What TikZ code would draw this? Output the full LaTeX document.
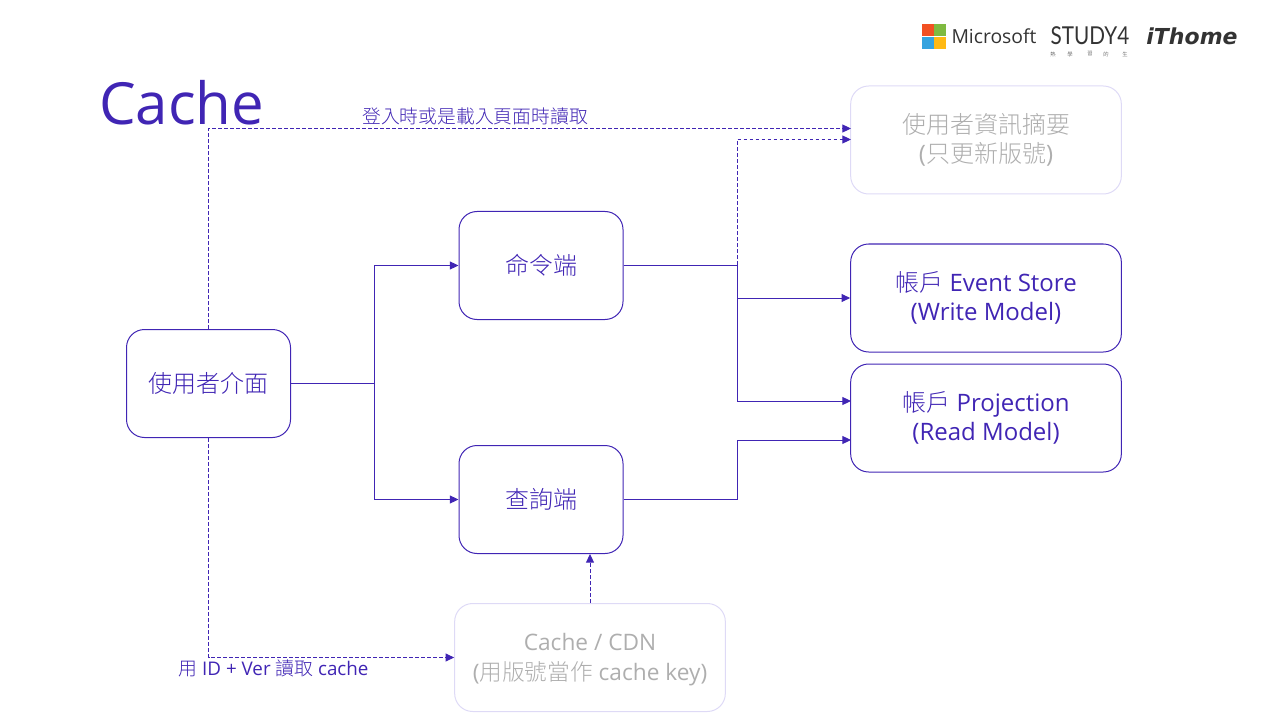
\documentclass[tikz,border=0pt]{standalone}
\usepackage{fontspec}
\setmainfont{Open Sans}
\newfontfamily\cjk{Noto Sans CJK TC Light}
\newfontfamily\logoslim{Lato}
\newfontfamily\logoheavy{DejaVu Sans}
\usetikzlibrary{arrows.meta}
\definecolor{accent}{HTML}{4025B4}
\definecolor{faint}{HTML}{DEDAF6}
\definecolor{muted}{HTML}{AEAEAE}
\definecolor{logoink}{HTML}{333333}
\definecolor{msred}{HTML}{F25022}
\definecolor{msgreen}{HTML}{7FBA40}
\definecolor{msblue}{HTML}{35A3DF}
\definecolor{msyellow}{HTML}{FFB913}

\begin{document}
\begin{tikzpicture}[
    x=0.75pt, y=-0.75pt,
    box/.style={draw=accent, rounded corners=13.5pt, inner sep=0pt, align=center, text=accent, font=\fontsize{18}{22}\selectfont, line width=0.75pt},
    smallbox/.style={box, minimum width=123pt, minimum height=81pt},
    widebox/.style={box, minimum width=203pt, minimum height=81pt},
    ghost/.style={draw=faint, text=muted},
    link/.style={-{Triangle[length=6.5pt,width=6pt]}, draw=accent, line width=0.75pt},
    dashlink/.style={link, dash pattern=on 2.8pt off 1.7pt},
    caption/.style={text=accent, inner sep=0pt, font=\fontsize{14.1}{17}\selectfont},
    pane/.style={inner sep=0pt, minimum size=8.7pt},
    tiny/.style={text=logoink, inner sep=0pt, font=\cjk\fontsize{4}{5}\selectfont}
  ]
  \useasboundingbox (0,0) rectangle (1280,720);
  % Title and logos
  \node[text=accent, inner sep=0pt, font=\fontsize{43.6}{52}\selectfont] (title) at (181.5,103) {Cache};
  \node[pane, fill=msred] (msa) at (928,30) {};
  \node[pane, fill=msgreen] (msb) at (940,30) {};
  \node[pane, fill=msblue] (msc) at (928,43) {};
  \node[pane, fill=msyellow] (msd) at (940,43) {};
  \node[text=logoink, inner sep=0pt, font=\fontsize{14.5}{18}\selectfont] (microsoft) at (994,36) {Microsoft};
  \node[text=logoink, inner sep=0pt, font=\logoslim\fontsize{18.5}{20}\selectfont] (study) at (1090,36) {\scalebox{0.84}[1]{STUDY4}};
  \node[text=logoink, inner sep=0pt, font=\logoheavy\fontsize{16.5}{20}\bfseries\itshape\selectfont] (ithome) at (1192,36) {iThome};
  \node[tiny] (sa) at (1053,54) {熱};
  \node[tiny] (sb) at (1070,54) {學};
  \node[tiny] (sc) at (1090,54) {習};
  \node[tiny] (sd) at (1106,54) {的};
  \node[tiny] (se) at (1125,54) {生};
  % Boxes
  \node[smallbox] (ui) at (208.5,383.5) {{\cjk 使用者介面}};
  \node[smallbox] (cmd) at (541,265.5) {{\cjk 命令端}};
  \node[smallbox] (query) at (541,499.5) {{\cjk 查詢端}};
  \node[widebox, ghost] (summary) at (986,140) {{\cjk 使用者資訊摘要}\\({\cjk 只更新版號})};
  \node[widebox] (store) at (986,298) {{\cjk 帳戶} Event Store\\(Write Model)};
  \node[widebox] (proj) at (986,418) {{\cjk 帳戶} Projection\\(Read Model)};
  \node[widebox, ghost, font=\fontsize{17}{22}\selectfont] (cdn) at (590,657.5) {\rule{0pt}{16pt}Cache / CDN\\({\cjk 用版號當作} cache key)};

  \coordinate (fork) at (374.5,383.5);
  \coordinate (bus) at (737,265.5);
  \coordinate (sumin) at (851,139.5);
  \coordinate (sumtop) at (851,128.5);
  \coordinate (projup) at (851,401);
  \coordinate (projlow) at (851,440);

  % Solid links
  \draw[link] (ui) -- (fork) |- (cmd);
  \draw[link] (ui) -- (fork) |- (query);
  \draw[link] (cmd) -| (bus) |- (store);
  \draw[link] (cmd) -- (bus) |- (projup);
  \draw[link] (query) -| (737,470) |- (projlow);
  % Dashed links
  \draw[dashlink] (cmd) -- (bus) |- (sumin);
  \draw[dashlink] (ui) |- (sumtop);
  \draw[dashlink] (ui) |- (cdn);
  \draw[dashlink] (cdn) -- (cdn.north |- query.south);
  \node[caption] (login) at (475,116) {{\cjk 登入時或是載入頁面時讀取}};
  \node[caption] (readver) at (273.5,668) {{\cjk 用} ID + Ver {\cjk 讀取} cache};
\end{tikzpicture}
\end{document}
